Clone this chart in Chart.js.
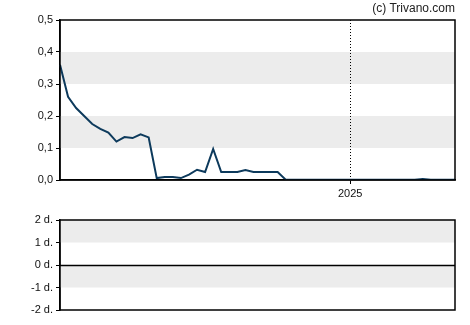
<!DOCTYPE html>
<html>
<head>
    <meta charset="utf-8">
    <script src="https://cdn.jsdelivr.net/npm/chart.js@4.4.0/dist/chart.umd.min.js"></script>
    <style>
        body { margin: 0; background: #fff; width: 470px; height: 325px; overflow: hidden; }
        #priceBox { position: absolute; left: 0; top: 0; width: 470px; height: 200px; }
        #lowerBox { position: absolute; left: 0; top: 200px; width: 470px; height: 125px; }
        #credit {
            position: absolute; right: 15px; top: 1px;
            font: 12px "Liberation Sans", Arial, sans-serif; color: #222;
        }
    </style>
</head>
<body>
    <div id="priceBox"><canvas id="priceChart"></canvas></div>
    <div id="lowerBox"><canvas id="lowerChart"></canvas></div>
    <div id="credit">(c) Trivano.com</div>

<script>
    // monthly closing prices, Jan 2022 .. Feb 2026
    var months = [];
    for (var y = 2022; y <= 2026; y++) {
        for (var m = 1; m <= 12; m++) {
            months.push(y + '-' + (m < 10 ? '0' + m : m));
        }
    }
    months = months.slice(0, 50);

    var prices = [
        0.36, 0.26, 0.225, 0.2, 0.175, 0.16, 0.148, 0.12, 0.134, 0.131,
        0.143, 0.133, 0.006, 0.009, 0.009, 0.006, 0.017, 0.032, 0.025, 0.097,
        0.025, 0.025, 0.025, 0.031, 0.025, 0.025, 0.025, 0.025, 0.001, 0.001,
        0.001, 0.001, 0.001, 0.001, 0.001, 0.001, 0.001, 0.001, 0.001, 0.001,
        0.001, 0.001, 0.001, 0.001, 0.001, 0.003, 0.001, 0.001, 0.001, 0.001
    ];

    var yearMark = '2025-01';
    var yearLabel = '2025';

    var priceTicks = [0, 0.1, 0.2, 0.3, 0.4, 0.5];
    var priceBands = [[0.1, 0.2], [0.3, 0.4]];
    var lowerTicks = [-2, -1, 0, 1, 2];
    var lowerBands = [[-1, 0], [1, 2]];

    var font = { family: '"Liberation Sans", Arial, sans-serif', size: 11 };

    // grey bands, frame and the dotted year line
    function framePlugin(bands, withYear, zeroLine) {
        return {
            id: 'frame',
            beforeDatasetsDraw: function (chart) {
                var c = chart.ctx, a = chart.chartArea, ys = chart.scales.y;
                c.save();
                c.fillStyle = '#ececec';
                bands.forEach(function (b) {
                    var top = ys.getPixelForValue(b[1]), bot = ys.getPixelForValue(b[0]);
                    c.fillRect(a.left, top, a.right - a.left, bot - top);
                });
                if (withYear) {
                    var x = Math.round(chart.scales.x.getPixelForValue(months.indexOf(yearMark))) + 0.5;
                    c.strokeStyle = '#000';
                    c.lineWidth = 1;
                    c.setLineDash([1, 2]);
                    c.beginPath();
                    c.moveTo(x, a.top);
                    c.lineTo(x, a.bottom);
                    c.stroke();
                    c.setLineDash([]);
                }
                if (zeroLine) {
                    var zy = Math.round(ys.getPixelForValue(0)) + 0.5;
                    c.strokeStyle = '#000';
                    c.lineWidth = 1.5;
                    c.beginPath();
                    c.moveTo(a.left, zy);
                    c.lineTo(a.right, zy);
                    c.stroke();
                }
                c.restore();
            },
            afterDraw: function (chart) {
                var c = chart.ctx, a = chart.chartArea;
                c.save();
                c.strokeStyle = '#000';
                c.lineWidth = 1.5;
                c.strokeRect(a.left, a.top, a.right - a.left, a.bottom - a.top);
                c.restore();
            }
        };
    }

    function yScale(min, max, ticks, fmt) {
        return {
            min: min, max: max,
            afterBuildTicks: function (s) { s.ticks = ticks.map(function (v) { return { value: v }; }); },
            afterFit: function (s) { s.width = 60; },
            ticks: { color: '#111', font: font, padding: 3, callback: fmt },
            grid: { drawOnChartArea: false, tickLength: 4, color: '#000' },
            border: { color: '#000', width: 1.5 }
        };
    }

    new Chart(document.getElementById('priceChart'), {
        type: 'line',
        data: {
            labels: months,
            datasets: [{
                data: prices,
                borderColor: '#0d3a5c',
                borderWidth: 2,
                pointRadius: 0,
                tension: 0
            }]
        },
        options: {
            animation: false,
            responsive: true,
            maintainAspectRatio: false,
            layout: { padding: { left: 0, right: 15, top: 20, bottom: 0 } },
            plugins: { legend: { display: false }, tooltip: { enabled: false } },
            scales: {
                x: {
                    offset: false,
                    afterBuildTicks: function (s) {
                        s.ticks = [{ value: months.indexOf(yearMark) }];
                    },
                    afterFit: function (s) { s.height = 20; },
                    ticks: {
                        color: '#111', font: font, padding: 3, maxRotation: 0, autoSkip: false,
                        callback: function () { return yearLabel; }
                    },
                    grid: { drawOnChartArea: false, tickLength: 4, color: '#000' },
                    border: { color: '#000', width: 1.5 }
                },
                y: yScale(0, 0.5, priceTicks, function (v) { return v.toFixed(1).replace('.', ','); })
            }
        },
        plugins: [framePlugin(priceBands, true, false)]
    });

    new Chart(document.getElementById('lowerChart'), {
        type: 'line',
        data: { labels: months, datasets: [{ data: [] }] },
        options: {
            animation: false,
            responsive: true,
            maintainAspectRatio: false,
            layout: { padding: { left: 0, right: 15, top: 20, bottom: 15 } },
            plugins: { legend: { display: false }, tooltip: { enabled: false } },
            scales: {
                x: { display: false, offset: false },
                y: yScale(-2, 2, lowerTicks, function (v) { return v + ' d.'; })
            }
        },
        plugins: [framePlugin(lowerBands, false, true)]
    });
</script>
</body>
</html>
